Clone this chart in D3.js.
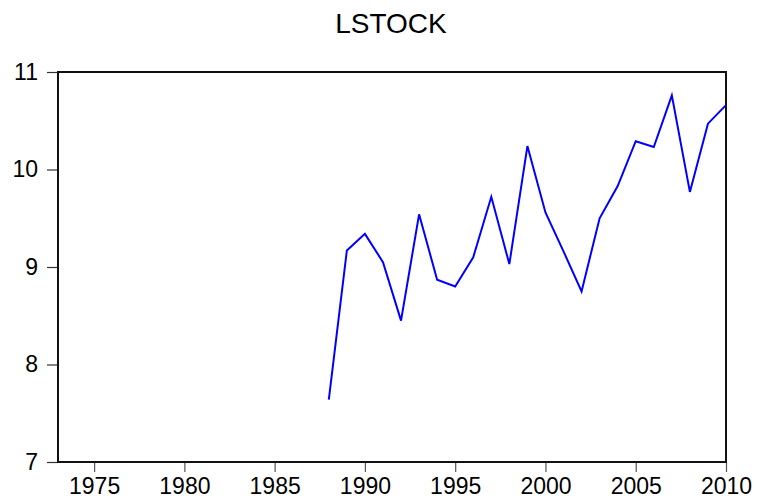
<!DOCTYPE html>
<html>
<head>
<meta charset="utf-8">
<script src="https://cdn.jsdelivr.net/npm/d3@7"></script>
<style>
  body { margin: 0; background: #fff; }
  text { font-family: Arial, "Liberation Sans", sans-serif; fill: #000; }
</style>
</head>
<body>
<div id="canvas"></div>
<script>
// LSTOCK annual series
const years = [1988, 1989, 1990, 1991, 1992, 1993, 1994, 1995, 1996, 1997, 1998, 1999,
  2000, 2001, 2002, 2003, 2004, 2005, 2006, 2007, 2008, 2009, 2010];
const lstock = [7.64, 9.17, 9.34, 9.05, 8.45, 9.54, 8.87, 8.80, 9.10, 9.72, 9.03, 10.24,
  9.56, 9.16, 8.75, 9.50, 9.83, 10.29, 10.23, 10.76, 9.77, 10.47, 10.66];
const xTicks = [1975, 1980, 1985, 1990, 1995, 2000, 2005, 2010];
const yTicks = [7, 8, 9, 10, 11];

const width = 757, height = 504;
const margin = { top: 72, left: 58, bottom: 42, right: 31 };
const iwidth = width - margin.left - margin.right;
const iheight = height - margin.top - margin.bottom;

const svg = d3.select("#canvas").append("svg")
  .attr("width", width)
  .attr("height", height);

svg.append("text")
  .attr("x", 391)
  .attr("y", 33)
  .attr("text-anchor", "middle")
  .style("font-size", "28px")
  .text("LSTOCK");

const g = svg.append("g").attr("transform", `translate(${margin.left},${margin.top})`);

const x = d3.scaleLinear().domain([1973, 2010]).range([0, iwidth]);
const y = d3.scaleLinear().domain([7, 11]).range([iheight, 0]);

// y axis
const ya = g.append("g")
  .call(d3.axisLeft(y).tickValues(yTicks).tickFormat(d3.format("d")).tickSize(11).tickPadding(9));
ya.select(".domain").remove();
ya.selectAll("line").attr("stroke", "#333").attr("stroke-width", 1.2);
ya.selectAll("text").style("font-size", "23px").style("font-family", "Arial, 'Liberation Sans', sans-serif");

// x axis
const xa = g.append("g")
  .attr("transform", `translate(0,${iheight})`)
  .call(d3.axisBottom(x).tickValues(xTicks).tickFormat(d3.format("d")).tickSize(10).tickPadding(6));
xa.select(".domain").remove();
xa.selectAll("line").attr("stroke", "#555").attr("stroke-width", 1.2);
xa.selectAll("text").style("font-size", "23px").style("font-family", "Arial, 'Liberation Sans', sans-serif");

// frame
g.append("rect")
  .attr("x", 0).attr("y", 0)
  .attr("width", iwidth).attr("height", iheight)
  .attr("fill", "none")
  .attr("stroke", "#111")
  .attr("stroke-width", 2);

const line = d3.line()
  .x((d, i) => x(years[i]))
  .y(d => y(d));

g.append("path")
  .datum(lstock)
  .attr("fill", "none")
  .attr("stroke", "#0000ff")
  .attr("stroke-width", 2)
  .attr("stroke-linejoin", "miter")
  .attr("d", line);
</script>
</body>
</html>
